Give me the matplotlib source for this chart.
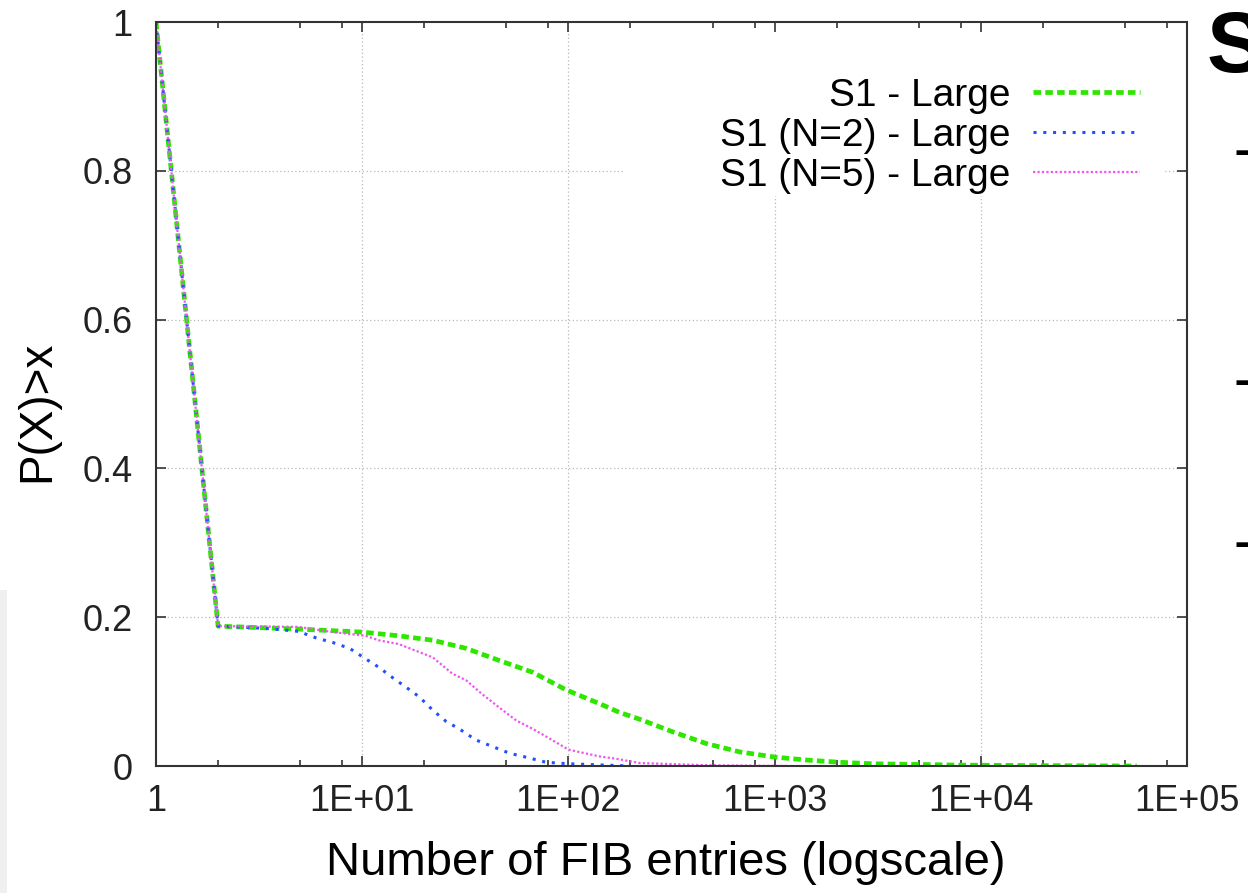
import matplotlib
matplotlib.use('Agg')
import matplotlib.pyplot as plt
from matplotlib.patches import Rectangle
from matplotlib.ticker import LogLocator, NullFormatter

plt.rcParams['font.family'] = ['Liberation Sans', 'DejaVu Sans']

# CCDF of FIB entries
s1_x = [1, 2, 4.9, 10, 15, 22, 32, 46, 67, 98, 141, 177, 221, 320, 468, 676,
        1000, 1430, 2070, 2990, 7900, 20000, 57000]
s1_y = [1.0, 0.188, 0.184, 0.180, 0.175, 0.169, 0.158, 0.142, 0.126, 0.102,
        0.084, 0.072, 0.063, 0.046, 0.030, 0.019, 0.012, 0.008, 0.005, 0.003,
        0.0012, 0.0005, 0.0]

n2_x = [1, 2, 3.4, 4.9, 6.0, 7.2, 8.7, 10.4, 12, 14, 16.3, 18.9, 22, 25.5,
        29.5, 35.6, 43, 52, 62, 78, 100, 200]
n2_y = [1.0, 0.188, 0.185, 0.181, 0.172, 0.166, 0.158, 0.144, 0.133, 0.119,
        0.106, 0.093, 0.075, 0.060, 0.050, 0.035, 0.026, 0.017, 0.012, 0.005,
        0.003, 0.0]

n5_x = [1, 2, 4.9, 7.2, 10.4, 12, 15, 22, 27.4, 32, 38, 46, 56, 67, 81, 100,
        141, 177, 221, 468, 1150]
n5_y = [1.0, 0.188, 0.187, 0.180, 0.175, 0.169, 0.164, 0.146, 0.124, 0.115,
        0.097, 0.079, 0.061, 0.050, 0.037, 0.022, 0.013, 0.009, 0.004, 0.001,
        0.0]

labels = ['S1 - Large', 'S1 (N=2) - Large', 'S1 (N=5) - Large']
xticks = [1, 1e1, 1e2, 1e3, 1e4, 1e5]
xticklabels = ['1', '1E+01', '1E+02', '1E+03', '1E+04', '1E+05']
yticks = [0, 0.2, 0.4, 0.6, 0.8, 1]
yticklabels = ['0', '0.2', '0.4', '0.6', '0.8', '1']

fig = plt.figure(figsize=(12.48, 8.93), dpi=100)
ax = fig.add_axes([156/1248, 1-766/893, 1031/1248, 744/893])

ax.set_xscale('log')
ax.set_xlim(1, 1e5)
ax.set_ylim(0, 1)

# gnuplot style dotted grid
for v in xticks[1:-1]:
    ax.axvline(v, color='#b8b8b8', lw=0.9, ls=(0, (1, 2)), zorder=0.5)
for v in yticks[1:-1]:
    ax.axhline(v, color='#b8b8b8', lw=0.9, ls=(0, (1, 2)), zorder=0.5)

# key box hides the grid behind it
ax.add_patch(Rectangle((0.455, 0.766), 0.523, 0.234, transform=ax.transAxes,
                       fc='white', ec='none', zorder=1))

ax.plot(s1_x, s1_y, color='#2ee600', lw=3.4, dashes=(1.6, 0.9), label=labels[0])
ax.plot(n2_x, n2_y, color='#2250ff', lw=2.2, dashes=(1, 2.2), label=labels[1])
ax.plot(n5_x, n5_y, color='#f055f0', lw=1.6, dashes=(1, 1), label=labels[2])

ax.set_xticks(xticks)
ax.set_xticklabels(xticklabels)
ax.xaxis.set_minor_locator(LogLocator(base=10, subs=(2, 5, 8), numticks=20))
ax.xaxis.set_minor_formatter(NullFormatter())
ax.set_yticks(yticks)
ax.set_yticklabels(yticklabels)

ax.tick_params(which='both', direction='in', top=True, right=True,
               width=1.2, color='#333333')
ax.tick_params(which='major', length=7)
ax.tick_params(which='minor', length=4)
ax.tick_params(axis='x', which='major', labelsize=26, pad=13, labelcolor='#222222')
ax.tick_params(axis='y', which='major', labelsize=26, pad=17, labelcolor='#222222')

for sp in ax.spines.values():
    sp.set_color('#333333')
    sp.set_linewidth(1.5)

ax.set_xlabel('Number of FIB entries (logscale)', fontsize=34)
ax.xaxis.set_label_coords(0.494, -0.101)
ax.set_ylabel('P(X)>x', fontsize=33)
ax.yaxis.set_label_coords(-0.094, 0.477)

ax.legend(loc='upper right', bbox_to_anchor=(0.954, 0.925), frameon=False,
          markerfirst=False, fontsize=28, handlelength=2.74, handletextpad=0.59,
          labelspacing=0.1, borderpad=0, borderaxespad=0)

# bits of the slide around the chart
fig.text(1207/1248, 1-72/893, 'S', fontsize=62, fontweight='bold',
         ha='left', va='baseline')
for yy in [166, 396, 558]:
    fig.text(1235/1248, 1-yy/893, '\u2013', fontsize=36, fontweight='bold',
             ha='left', va='baseline')
fig.add_artist(Rectangle((0, 0), 7/1248, 1-590/893, transform=fig.transFigure,
                         fc='#efefef', ec='none'))

fig.savefig('out.png', dpi=100, facecolor='white')
